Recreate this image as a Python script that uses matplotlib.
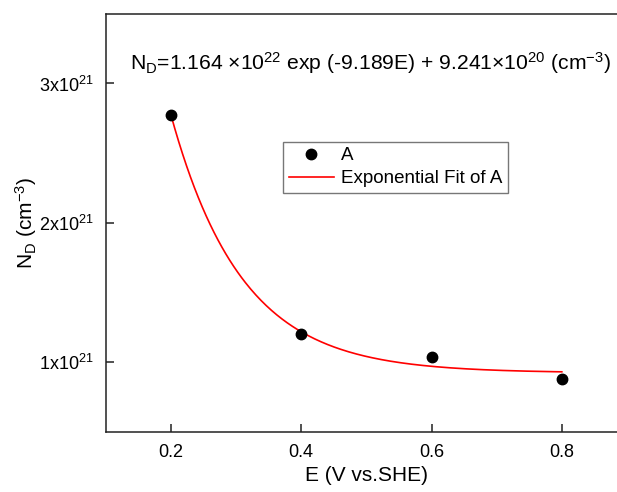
import numpy as np
import matplotlib
matplotlib.use("Agg")
import matplotlib.pyplot as plt
from matplotlib.lines import Line2D

plt.rcParams['font.family'] = ['Liberation Sans', 'DejaVu Sans']
plt.rcParams['mathtext.fontset'] = 'custom'
plt.rcParams['mathtext.rm'] = 'Liberation Sans'
plt.rcParams['mathtext.it'] = 'Liberation Sans:italic'
plt.rcParams['mathtext.bf'] = 'Liberation Sans:bold'

# Data
E = [0.2, 0.4, 0.6, 0.8]
ND = [2.773e21, 1.204e21, 1.036e21, 0.881e21]
fit_A = 1.164e22
fit_k = -9.189
fit_C = 9.241e20
x_ticks = [0.2, 0.4, 0.6, 0.8]
x_tick_labels = ['0.2', '0.4', '0.6', '0.8']
y_ticks = [1e21, 2e21, 3e21]
y_tick_labels = [r'1x10$^{21}$', r'2x10$^{21}$', r'3x10$^{21}$']

fig = plt.figure(figsize=(6.17, 4.92), dpi=100)
ax = fig.add_axes([0.1713, 0.122, 1.0162 - 0.1713, 0.972 - 0.122])

xf = np.linspace(E[0], E[-1], 300)
yf = fit_A * np.exp(fit_k * xf) + fit_C
ax.plot(xf, yf, color='red', lw=1.2, zorder=2)
ax.plot(E, ND, 'o', color='black', ms=7.5, zorder=3)

ax.set_xlim(0.1, 0.9)
ax.set_ylim(0.5e21, 3.5e21)
ax.set_xticks(x_ticks)
ax.set_xticklabels(x_tick_labels)
ax.set_yticks(y_ticks)
ax.set_yticklabels(y_tick_labels)
ax.tick_params(direction='in', length=6, width=1.1, labelsize=13, colors='#222222', labelcolor='black', pad=9)
for s in ax.spines.values():
    s.set_linewidth(1.1)
    s.set_color('#222222')

ax.set_xlabel('E (V vs.SHE)', fontsize=15, labelpad=3)
ax.set_ylabel(r'N$_\mathrm{D}$ (cm$^{-3}$)', fontsize=15, labelpad=0)

ax.text(0.0466, 0.865,
        r'N$_\mathrm{D}$=1.164 ×10$^{22}$ exp (-9.189E) + 9.241×10$^{20}$ (cm$^{-3}$)',
        transform=ax.transAxes, fontsize=15.2, va='baseline', ha='left')

handles = [Line2D([], [], marker='o', color='black', ls='none', ms=7.5),
           Line2D([], [], color='red', lw=1.2)]
leg = ax.legend(handles, ['A', 'Exponential Fit of A'], loc='upper left',
                bbox_to_anchor=(0.340, 0.694), fontsize=13.5, fancybox=False,
                framealpha=1, edgecolor='#777777', borderpad=0.3,
                handlelength=2.4, handletextpad=0.4, labelspacing=0.3,
                borderaxespad=0)
leg.get_frame().set_linewidth(1.0)

fig.savefig('out.png', dpi=100)
